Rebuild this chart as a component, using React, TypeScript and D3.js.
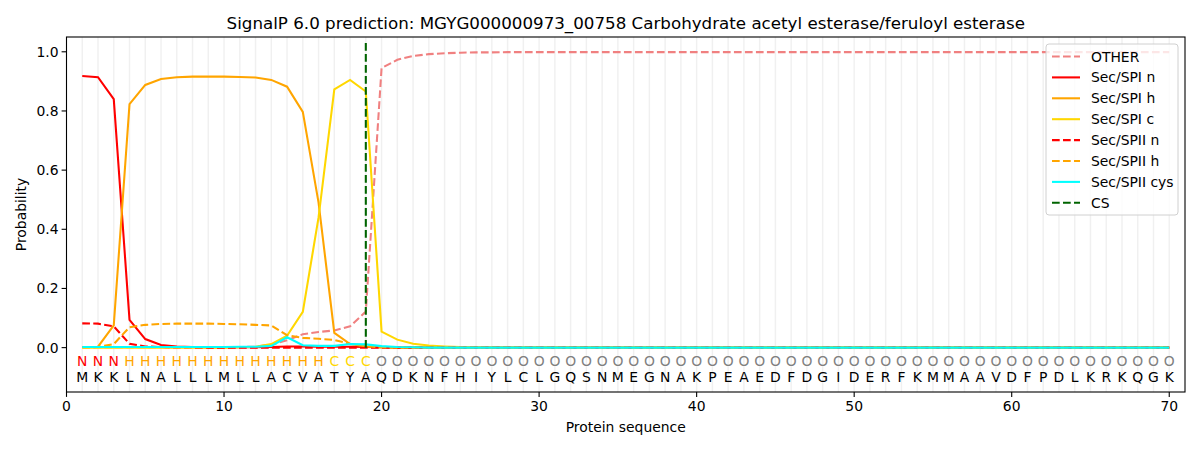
import React from "react";
import * as d3 from "d3";

const sequence = "MKKLNALLLMLLACVATYAQDKNFHIYLCLGQSNMEGNAKPEAEDFDGIDERFKMMAAVDFPDLKRKQGK".split("");
const roles = "NNNHHHHHHHHHHHHHCCCOOOOOOOOOOOOOOOOOOOOOOOOOOOOOOOOOOOOOOOOOOOOOOOOOOO".split("");

const other = [
  0.001, 0.001, 0.001, 0.001, 0.001, 0.001, 0.001, 0.001, 0.001, 0.001,
  0.002, 0.003, 0.010, 0.025, 0.045, 0.053, 0.058, 0.072, 0.122, 0.945,
  0.973, 0.986, 0.992, 0.995, 0.997, 0.998, 0.998, 0.999, 0.999, 0.999,
  0.999, 0.999, 0.999, 0.999, 0.999, 0.999, 0.999, 0.999, 0.999, 0.999,
  0.999, 0.999, 0.999, 0.999, 0.999, 0.999, 0.999, 0.999, 0.999, 0.999,
  0.999, 0.999, 0.999, 0.999, 0.999, 0.999, 0.999, 0.999, 0.999, 0.999,
  0.999, 0.999, 0.999, 0.999, 0.999, 0.999, 0.999, 0.999, 0.999, 0.999,
];
const spiN = [
  0.918, 0.914, 0.840, 0.094, 0.029, 0.009, 0.004, 0.002, 0.001, 0.001,
  0.001, 0.001, 0.002, 0.004, 0.004, 0.003, 0.003, 0.003, 0.002, 0.001,
  0, 0, 0, 0, 0, 0, 0, 0, 0, 0,
  0, 0, 0, 0, 0, 0, 0, 0, 0, 0,
  0, 0, 0, 0, 0, 0, 0, 0, 0, 0,
  0, 0, 0, 0, 0, 0, 0, 0, 0, 0,
  0, 0, 0, 0, 0, 0, 0, 0, 0, 0,
];
const spiH = [
  0.001, 0.003, 0.075, 0.823, 0.888, 0.908, 0.914, 0.916, 0.916, 0.916,
  0.915, 0.913, 0.905, 0.882, 0.797, 0.490, 0.050, 0.012, 0.004, 0.001,
  0, 0, 0, 0, 0, 0, 0, 0, 0, 0,
  0, 0, 0, 0, 0, 0, 0, 0, 0, 0,
  0, 0, 0, 0, 0, 0, 0, 0, 0, 0,
  0, 0, 0, 0, 0, 0, 0, 0, 0, 0,
  0, 0, 0, 0, 0, 0, 0, 0, 0, 0,
];
const spiC = [
  0, 0, 0, 0, 0, 0, 0, 0, 0, 0,
  0.001, 0.003, 0.012, 0.040, 0.121, 0.440, 0.873, 0.905, 0.866, 0.054,
  0.027, 0.013, 0.007, 0.004, 0.002, 0.001, 0, 0, 0, 0,
  0, 0, 0, 0, 0, 0, 0, 0, 0, 0,
  0, 0, 0, 0, 0, 0, 0, 0, 0, 0,
  0, 0, 0, 0, 0, 0, 0, 0, 0, 0,
  0, 0, 0, 0, 0, 0, 0, 0, 0, 0,
];
const spiiN = [
  0.082, 0.081, 0.072, 0.013, 0.004, 0.002, 0.001, 0.001, 0, 0,
  0, 0, 0, 0, 0, 0, 0, 0, 0, 0,
  0, 0, 0, 0, 0, 0, 0, 0, 0, 0,
  0, 0, 0, 0, 0, 0, 0, 0, 0, 0,
  0, 0, 0, 0, 0, 0, 0, 0, 0, 0,
  0, 0, 0, 0, 0, 0, 0, 0, 0, 0,
  0, 0, 0, 0, 0, 0, 0, 0, 0, 0,
];
const spiiH = [
  0.001, 0.002, 0.012, 0.069, 0.077, 0.080, 0.081, 0.081, 0.081, 0.080,
  0.079, 0.077, 0.075, 0.042, 0.033, 0.030, 0.026, 0.013, 0.005, 0.001,
  0, 0, 0, 0, 0, 0, 0, 0, 0, 0,
  0, 0, 0, 0, 0, 0, 0, 0, 0, 0,
  0, 0, 0, 0, 0, 0, 0, 0, 0, 0,
  0, 0, 0, 0, 0, 0, 0, 0, 0, 0,
  0, 0, 0, 0, 0, 0, 0, 0, 0, 0,
];
const spiiCys = [
  0.002, 0.002, 0.002, 0.002, 0.002, 0.002, 0.002, 0.002, 0.002, 0.002,
  0.003, 0.003, 0.006, 0.035, 0.008, 0.006, 0.006, 0.012, 0.011, 0.005,
  0.002, 0.001, 0, 0, 0, 0, 0, 0, 0, 0,
  0, 0, 0, 0, 0, 0, 0, 0, 0, 0,
  0, 0, 0, 0, 0, 0, 0, 0, 0, 0,
  0, 0, 0, 0, 0, 0, 0, 0, 0, 0,
  0, 0, 0, 0, 0, 0, 0, 0, 0, 0,
];
const csPosition = 19;

const xTicks = [0, 10, 20, 30, 40, 50, 60, 70];
const yTicks = [0.0, 0.2, 0.4, 0.6, 0.8, 1.0];

const series = [
  { name: "OTHER", values: other, color: "#F08080", dashed: true },
  { name: "Sec/SPI n", values: spiN, color: "#FF0000", dashed: false },
  { name: "Sec/SPI h", values: spiH, color: "#FFA500", dashed: false },
  { name: "Sec/SPI c", values: spiC, color: "#FFD700", dashed: false },
  { name: "Sec/SPII n", values: spiiN, color: "#FF0000", dashed: true },
  { name: "Sec/SPII h", values: spiiH, color: "#FFA500", dashed: true },
  { name: "Sec/SPII cys", values: spiiCys, color: "#00FFFF", dashed: false },
];

const roleColor: Record<string, string> = { N: "#FF0000", H: "#FFA500", C: "#FFD700", O: "#808080" };

const W = 1200, H = 450;
const L = 66.5, R = 1185, T = 37, B = 392;
const FONT = "DejaVu Sans, sans-serif";

export default function App() {
  const x = d3.scaleLinear().domain([0, 71]).range([L, R]);
  const y = d3.scaleLinear().domain([-0.15, 1.05]).range([B, T]);
  const line = d3.line<number>().x((_, i) => x(i + 1)).y((d) => y(d));
  const dash = "7.7 3.3";

  return (
    <svg width={W} height={H} style={{ position: "absolute", left: 0, top: 0, background: "#fff" }} fontFamily={FONT}>
      <defs>
        <clipPath id="plotclip"><rect x={L} y={T} width={R - L} height={B - T} /></clipPath>
      </defs>
      <rect x={0} y={0} width={W} height={H} fill="#fff" />
      {sequence.map((_, i) => (
        <line key={"g" + i} x1={x(i + 1)} x2={x(i + 1)} y1={T} y2={B} stroke="#000" strokeOpacity={0.06} strokeWidth={1.5} />
      ))}
      <g clipPath="url(#plotclip)">
        {series.map((s) => (
          <path key={s.name} d={line(s.values) || ""} fill="none" stroke={s.color} strokeWidth={2.08}
            strokeDasharray={s.dashed ? dash : undefined} />
        ))}
        <line x1={x(csPosition)} x2={x(csPosition)} y1={y(0)} y2={y(1.04)} stroke="#006400" strokeWidth={2.08} strokeDasharray={dash} />
      </g>
      {roles.map((r, i) => (
        <text key={"r" + i} x={x(i + 1)} y={y(-0.045)} dy="0.36em" textAnchor="middle" fontSize={13.9} fill={roleColor[r]}>{r}</text>
      ))}
      {sequence.map((a, i) => (
        <text key={"a" + i} x={x(i + 1)} y={y(-0.1)} dy="0.36em" textAnchor="middle" fontSize={13.9} fill="#000">{a}</text>
      ))}
      <rect x={L} y={T} width={R - L} height={B - T} fill="none" stroke="#000" strokeWidth={1.1} />
      {xTicks.map((t) => (
        <g key={"xt" + t}>
          <line x1={x(t)} x2={x(t)} y1={B} y2={B + 4.9} stroke="#000" strokeWidth={1.1} />
          <text x={x(t)} y={B + 8} dy="0.8em" textAnchor="middle" fontSize={13.9}>{t}</text>
        </g>
      ))}
      {yTicks.map((t) => (
        <g key={"yt" + t}>
          <line x1={L} x2={L - 4.9} y1={y(t)} y2={y(t)} stroke="#000" strokeWidth={1.1} />
          <text x={L - 8} y={y(t)} dy="0.36em" textAnchor="end" fontSize={13.9}>{t.toFixed(1)}</text>
        </g>
      ))}
      <text x={(L + R) / 2} y={432} textAnchor="middle" fontSize={13.9}>Protein sequence</text>
      <text transform={`translate(26,${(T + B) / 2}) rotate(-90)`} textAnchor="middle" fontSize={13.9}>Probability</text>
      <text x={(L + R) / 2} y={29} textAnchor="middle" fontSize={16.7}>SignalP 6.0 prediction: MGYG000000973_00758 Carbohydrate acetyl esterase/feruloyl esterase</text>
      <g>
        <rect x={1046} y={44} width={132} height={171} rx={3} fill="#fff" fillOpacity={0.8} stroke="#d0d0d0" strokeWidth={1} />
        {[...series, { name: "CS", values: [], color: "#006400", dashed: true }].map((s, i) => {
          const yy = 56.5 + i * 20.9;
          return (
            <g key={"lg" + s.name}>
              <line x1={1052} x2={1080} y1={yy} y2={yy} stroke={s.color} strokeWidth={2.08} strokeDasharray={s.dashed ? dash : undefined} />
              <text x={1091} y={yy} dy="0.36em" fontSize={13.9}>{s.name}</text>
            </g>
          );
        })}
      </g>
    </svg>
  );
}
